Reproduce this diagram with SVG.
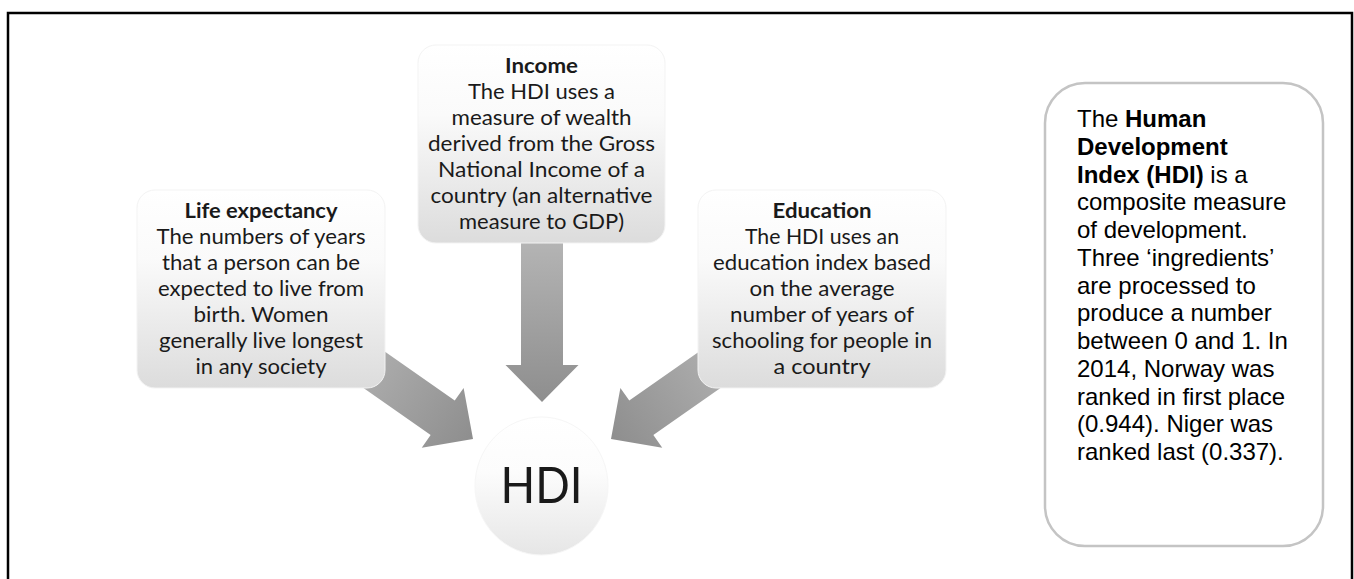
<svg xmlns="http://www.w3.org/2000/svg" width="1354" height="579" viewBox="0 0 1354 579">
<defs>
<linearGradient id="boxGrad" x1="0" y1="0" x2="0" y2="1">
<stop offset="0" stop-color="#ffffff"/>
<stop offset="0.35" stop-color="#fafafa"/>
<stop offset="1" stop-color="#dcdcdc"/>
</linearGradient>
<linearGradient id="circGrad" x1="0" y1="0" x2="0" y2="1">
<stop offset="0" stop-color="#ffffff"/>
<stop offset="0.4" stop-color="#fcfcfc"/>
<stop offset="1" stop-color="#e6e6e6"/>
</linearGradient>
<linearGradient id="arrGrad" x1="0" y1="0" x2="1" y2="0">
<stop offset="0" stop-color="#b4b4b4"/>
<stop offset="1" stop-color="#8e8e8e"/>
</linearGradient>
<path id="arrowShape" d="M-160,-21 L-37,-21 L-37,-36.5 L0,0 L-37,36.5 L-37,21 L-160,21 Z"/>
</defs>
<style>
.box{fill:url(#boxGrad);stroke:#f3f3f3;stroke-width:1}
.cal{font-family:Lato,"Open Sans","DejaVu Sans",sans-serif;font-size:21px;fill:#1a1a1a;text-anchor:middle}
.calb{font-weight:bold}
.ar{font-family:"Liberation Sans",Arial,sans-serif;font-size:24px;fill:#000}
.arrow{fill:url(#arrGrad)}
</style>
<rect x="8" y="13" width="1344" height="620" fill="#ffffff" stroke="#000" stroke-width="2.5"/>

<g id="connectors">
<use href="#arrowShape" class="arrow" transform="translate(542,402) rotate(90)"/>
<use href="#arrowShape" class="arrow" transform="translate(473,439) rotate(35)"/>
<use href="#arrowShape" class="arrow" transform="translate(611,439) rotate(145)"/>
</g>

<g id="income">
<rect class="box" x="418" y="45" width="247" height="198" rx="18"/>
<text class="cal calb" x="541.5" y="73" textLength="73" lengthAdjust="spacingAndGlyphs">Income</text>
<text class="cal" x="541.5" y="99" textLength="147" lengthAdjust="spacingAndGlyphs">The HDI uses  a</text>
<text class="cal" x="541.5" y="125" textLength="180" lengthAdjust="spacingAndGlyphs">measure of wealth</text>
<text class="cal" x="541.5" y="151" textLength="227" lengthAdjust="spacingAndGlyphs">derived from the Gross</text>
<text class="cal" x="541.5" y="177" textLength="207" lengthAdjust="spacingAndGlyphs">National Income  of a</text>
<text class="cal" x="541.5" y="203" textLength="222" lengthAdjust="spacingAndGlyphs">country (an alternative</text>
<text class="cal" x="541.5" y="229" textLength="165" lengthAdjust="spacingAndGlyphs">measure to GDP)</text>
</g>

<g id="life">
<rect class="box" x="137" y="190" width="248" height="198" rx="18"/>
<text class="cal calb" x="261" y="218" textLength="153" lengthAdjust="spacingAndGlyphs">Life expectancy</text>
<text class="cal" x="261" y="244" textLength="209" lengthAdjust="spacingAndGlyphs">The numbers of years</text>
<text class="cal" x="261" y="270" textLength="198" lengthAdjust="spacingAndGlyphs">that a person can be</text>
<text class="cal" x="261" y="296" textLength="206" lengthAdjust="spacingAndGlyphs">expected to live from</text>
<text class="cal" x="261" y="322" textLength="135" lengthAdjust="spacingAndGlyphs">birth. Women</text>
<text class="cal" x="261" y="348" textLength="204" lengthAdjust="spacingAndGlyphs">generally live longest</text>
<text class="cal" x="261" y="374" textLength="131" lengthAdjust="spacingAndGlyphs">in any society</text>
</g>

<g id="education">
<rect class="box" x="698" y="190" width="248" height="198" rx="18"/>
<text class="cal calb" x="822" y="218" textLength="99" lengthAdjust="spacingAndGlyphs">Education</text>
<text class="cal" x="822" y="244" textLength="154" lengthAdjust="spacingAndGlyphs">The HDI uses an</text>
<text class="cal" x="822" y="270" textLength="218" lengthAdjust="spacingAndGlyphs">education index based</text>
<text class="cal" x="822" y="296" textLength="145" lengthAdjust="spacingAndGlyphs">on the average</text>
<text class="cal" x="822" y="322" textLength="184" lengthAdjust="spacingAndGlyphs">number of years of</text>
<text class="cal" x="822" y="348" textLength="220" lengthAdjust="spacingAndGlyphs">schooling for people in</text>
<text class="cal" x="822" y="374" textLength="97" lengthAdjust="spacingAndGlyphs">a  country</text>
</g>

<g id="hdi">
<ellipse cx="541.5" cy="486" rx="66.5" ry="69" fill="url(#circGrad)" stroke="#f6f6f6" stroke-width="1"/>
<text class="cal" x="541.5" y="503" style="font-size:51px" textLength="82" lengthAdjust="spacingAndGlyphs">HDI</text>
</g>

<g id="definition">
<rect x="1045" y="83" width="278" height="463" rx="40" fill="#ffffff" stroke="#c4c4c4" stroke-width="2.5"/>
<text class="ar">
<tspan x="1077" y="127">The <tspan font-weight="bold">Human</tspan></tspan>
<tspan x="1077" y="154.75" font-weight="bold">Development</tspan>
<tspan x="1077" y="182.5"><tspan font-weight="bold">Index (HDI)</tspan> is a</tspan>
<tspan x="1077" y="210.25">composite measure</tspan>
<tspan x="1077" y="238">of development.</tspan>
<tspan x="1077" y="265.75">Three ‘ingredients’</tspan>
<tspan x="1077" y="293.5">are processed to</tspan>
<tspan x="1077" y="321.25">produce a number</tspan>
<tspan x="1077" y="349">between 0 and 1. In</tspan>
<tspan x="1077" y="376.75">2014, Norway was</tspan>
<tspan x="1077" y="404.5">ranked in first place</tspan>
<tspan x="1077" y="432.25">(0.944). Niger was</tspan>
<tspan x="1077" y="460">ranked last (0.337).</tspan>
</text>
</g>
</svg>
